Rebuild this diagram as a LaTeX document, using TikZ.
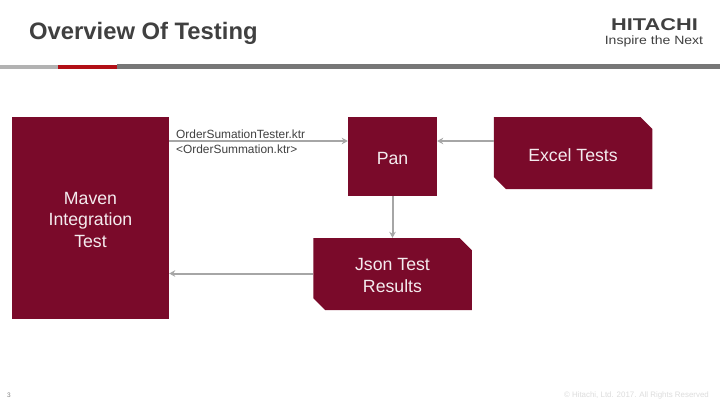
\documentclass[tikz,border=0pt]{standalone}
\usepackage{fontspec}
\setmainfont{Liberation Sans}
\usetikzlibrary{arrows.meta}
\definecolor{wine}{HTML}{7A0A2A}
\definecolor{titlegray}{HTML}{404040}
\definecolor{linegray}{HTML}{A6A6A6}
\definecolor{barlight}{HTML}{B2B2B2}
\definecolor{bardark}{HTML}{777777}
\definecolor{barred}{HTML}{B20F16}
\definecolor{foot}{HTML}{DDDDDD}
\tikzset{
  x=1pt,y=-1pt,
  boxbase/.style={text=white!92!wine,align=center,inner sep=0pt,font=\fontsize{17.7}{21.4}\selectfont},
  plainbox/.style={boxbase,fill=wine,rectangle},
  snipbox/.style={boxbase,rectangle,minimum width=158.5pt,minimum height=72pt,
    path picture={\fill[wine] (path picture bounding box.north west)
      -- ([xshift=-12pt]path picture bounding box.north east)
      -- ([yshift=-12pt]path picture bounding box.north east)
      -- (path picture bounding box.south east)
      -- ([xshift=12pt]path picture bounding box.south west)
      -- ([yshift=12pt]path picture bounding box.south west) -- cycle;}},
  link/.style={draw=linegray,line width=2pt,-{Stealth[length=6pt,width=6.5pt]}},
  smalllabel/.style={text=titlegray,inner sep=0pt,anchor=west,font=\fontsize{11.9}{14}\selectfont},
}
\newcommand{\lowerby}[1]{\rule{0pt}{#1pt}}
\begin{document}
\begin{tikzpicture}
\useasboundingbox (0,0) rectangle (720,405);
\fill[white] (0,0) rectangle (720,405);
\node[inner sep=0pt,anchor=west,text=titlegray] (title) at (29,33.5) {\fontsize{23.8}{28}\bfseries Overview Of Testing};
\fill[barlight] (0,65) rectangle (58,69);
\fill[barred] (58,65) rectangle (117,69);
\fill[bardark] (117,64) rectangle (720,69);
\node[inner sep=0pt,text=titlegray,xscale=1.28] (logoa) at (654.5,25) {\fontsize{17}{20}\bfseries HITACHI};
\node[inner sep=0pt,text=titlegray,xscale=1.17] (logob) at (654,41) {\fontsize{12}{14}\selectfont Inspire the Next};
\node[plainbox,minimum width=157pt,minimum height=202pt] (maven) at (90.5,218) {\lowerby{16}Maven\\Integration\\Test};
\node[plainbox,minimum width=89pt,minimum height=79pt] (pan) at (392.5,156.5) {\lowerby{17}Pan};
\node[snipbox] (excel) at (573,153) {\lowerby{17}Excel Tests};
\node[snipbox] (json) at (392.5,274) {\lowerby{15.5}Json Test\\Results};
\coordinate (upper) at (392.5,141);
\coordinate (lower) at (392.5,273.5);
\draw[link] (maven.east |- upper) -- (pan.west |- upper);
\draw[link] (excel.west |- upper) -- (pan.east |- upper);
\draw[link] (pan.south) -- (json.north);
\draw[link] (json.west |- lower) -- (maven.east |- lower);
\node[smalllabel] (la) at (176,134.5) {OrderSumationTester.ktr};
\node[smalllabel] (lb) at (176,149) {<OrderSummation.ktr>};
\node[inner sep=0pt,text=gray,font=\fontsize{6.5}{8}\selectfont] (page) at (9,395) {3};
\node[inner sep=0pt,anchor=east,text=foot,font=\fontsize{7.9}{9}\selectfont] (copy) at (709,395) {© Hitachi, Ltd. 2017. All Rights Reserved};
\end{tikzpicture}
\end{document}
